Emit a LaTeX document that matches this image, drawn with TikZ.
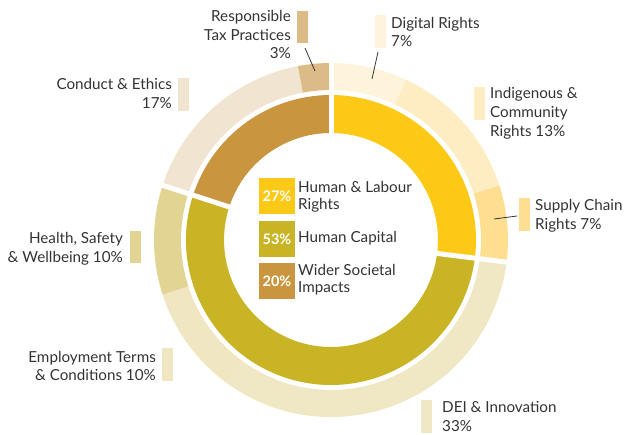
\documentclass[tikz,border=0pt]{standalone}
\usepackage{fontspec}
\setmainfont{Lato}
\definecolor{cHL}{HTML}{FCC917}
\definecolor{cHC}{HTML}{C8B424}
\definecolor{cWS}{HTML}{C9963F}
\definecolor{cDig}{HTML}{FEF4DC}
\definecolor{cInd}{HTML}{FEEDC2}
\definecolor{cSup}{HTML}{FEDF92}
\definecolor{cDEI}{HTML}{F0E7C4}
\definecolor{cEmp}{HTML}{F0E6C2}
\definecolor{cHea}{HTML}{E2D593}
\definecolor{cCon}{HTML}{F1E4D0}
\definecolor{cTax}{HTML}{DDBB87}
\definecolor{txt}{HTML}{333333}
\newcommand\ringseg[5]{%
  \fill[#1] (#2:#4pt) arc[start angle=#2, end angle=#3, radius=#4pt]
    -- (#3:#5pt) arc[start angle=#3, end angle=#2, radius=#5pt] -- cycle;}
\begin{document}
\begin{tikzpicture}[x=1pt,y=1pt,
  lbl/.style={text=txt, font=\fontsize{15.2}{18.8}\selectfont, inner sep=0pt},
  lblr/.style={lbl, align=right, anchor=east},
  lbll/.style={lbl, align=left, anchor=west},
  bar/.style={minimum width=11pt, minimum height=32.5pt, inner sep=0pt},
  sq/.style={minimum width=36pt, minimum height=36pt, inner sep=0pt, text=white, font=\bfseries\fontsize{14.5}{15}\selectfont},
  leg/.style={text=txt, font=\fontsize{15.2}{17}\selectfont, inner sep=0pt, align=left, anchor=west},
  leader/.style={draw=txt, line width=0.8pt}]
\useasboundingbox (-331,-194) rectangle (300,240);
% inner ring
\ringseg{cHL}{90}{-7.2}{107}{145}
\ringseg{cHC}{-7.2}{-198}{107}{145}
\ringseg{cWS}{162}{90}{107}{145}
% outer ring
\ringseg{cDig}{90}{64.8}{150}{177}
\ringseg{cInd}{64.8}{18}{150}{177}
\ringseg{cSup}{18}{-7.2}{150}{177}
\ringseg{cDEI}{-7.2}{-126}{150}{177}
\ringseg{cEmp}{-126}{-162}{150}{177}
\ringseg{cHea}{-162}{-198}{150}{177}
\ringseg{cCon}{162}{100.8}{150}{177}
\ringseg{cTax}{100.8}{90}{150}{177}
% gaps
\foreach \a in {90,-7.2,162} \draw[white, line width=5pt] (\a:100pt) -- (\a:182pt);
% bars
\node[bar, fill=cTax] (bTax) at (-28.5,213) {};
\node[bar, fill=cDig] (bDig) at (49.5,208.5) {};
\node[bar, fill=cInd] (bInd) at (148.5,136.5) {};
\node[bar, fill=cSup] (bSup) at (193.5,25.5) {};
\node[bar, fill=cDEI] (bDEI) at (95.5,-176.5) {};
\node[bar, fill=cCon] (bCon) at (-147.5,145.5) {};
\node[bar, fill=cHea] (bHea) at (-195.5,-7) {};
\node[bar, fill=cEmp] (bEmp) at (-163.5,-124.5) {};
% labels
\node[lblr] (tTax) at (-40,205.5) {Responsible\\Tax Practices\\3\%};
\node[lbll] (tDig) at (60,208) {Digital Rights\\7\%};
\node[lbll] (tInd) at (159,127) {Indigenous \&\\Community\\Rights 13\%};
\node[lbll] (tSup) at (204,24.5) {Supply Chain\\Rights 7\%};
\node[lbll] (tDEI) at (111,-176.3) {DEI \& Innovation\\33\%};
\node[lblr] (tCon) at (-159,146.5) {Conduct \& Ethics\\17\%};
\node[lblr] (tHea) at (-208,-9) {Health, Safety\\\& Wellbeing 10\%};
\node[lblr] (tEmp) at (-175,-126) {Employment Terms\\\& Conditions 10\%};
% leader lines
\coordinate (lTaxA) at (-26,192); \coordinate (lTaxB) at (-16,169);
\coordinate (lDigA) at (47,188);  \coordinate (lDigB) at (41,161);
\coordinate (lSupA) at (163,21);  \coordinate (lSupB) at (186,24);
\draw[leader] (lTaxA) -- (lTaxB);
\draw[leader] (lDigA) -- (lDigB);
\draw[leader] (lSupB) -- (lSupA);
% legend
\node[sq, fill=cHL] (sHL) at (-54,44) {27\%};
\node[sq, fill=cHC] (sHC) at (-54,1) {53\%};
\node[sq, fill=cWS] (sWS) at (-54,-41) {20\%};
\node[leg] (gHL) at (-33,43.5) {Human \& Labour\\Rights};
\node[leg] (gHC) at (-33,2) {Human Capital};
\node[leg] (gWS) at (-33,-40) {Wider Societal\\Impacts};
\end{tikzpicture}
\end{document}
